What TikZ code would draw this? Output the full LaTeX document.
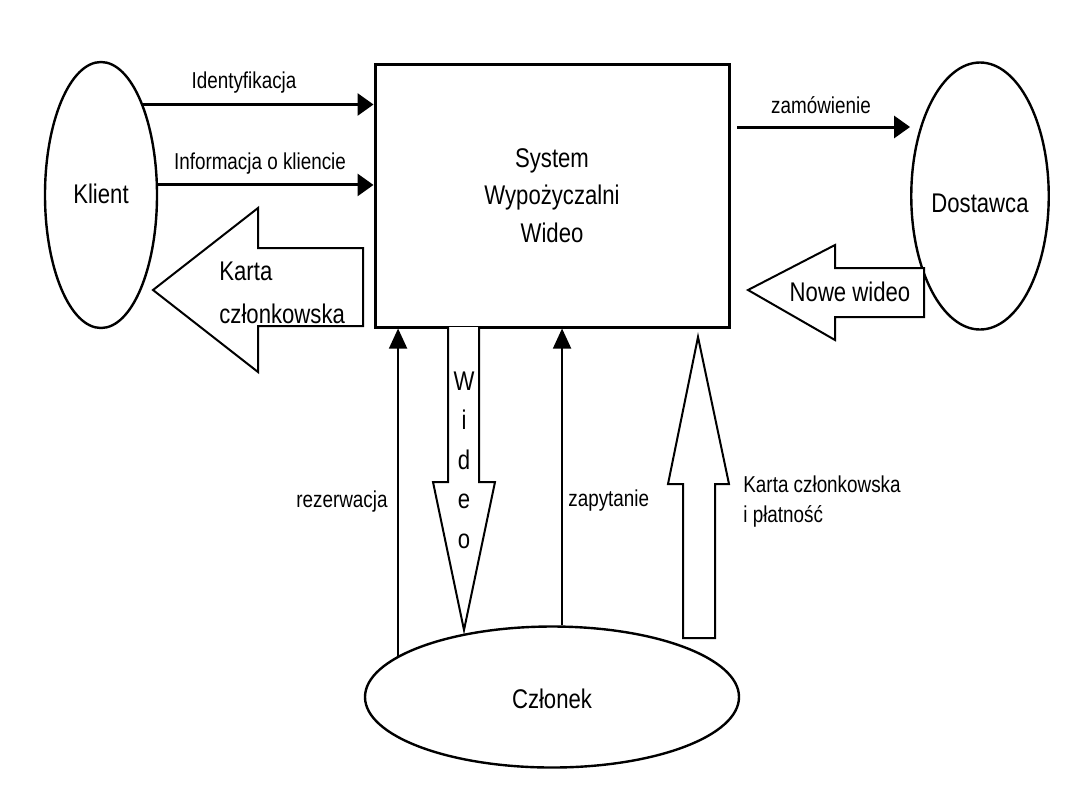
\documentclass[tikz,border=0pt]{standalone}
\usepackage{fontspec}
\setmainfont{Liberation Sans}[FakeStretch=0.82]
\usetikzlibrary{arrows.meta,shapes.geometric}
\newcommand\lblf{\fontsize{11.5}{15}\selectfont}
\newcommand\bigf{\fontsize{13.5}{18.75}\selectfont}
\begin{document}
\begin{tikzpicture}[x=0.5pt,y=-0.5pt,
  ent/.style={draw, line width=1.2pt, ellipse, inner sep=0pt, font=\bigf, text depth=0pt},
  sysbox/.style={draw, line width=1.5pt, rectangle, inner sep=0pt, minimum width=177pt, minimum height=131.5pt, align=center, font=\bigf},
  hflow/.style={line width=1.5pt, -{Triangle[length=8pt,width=11pt]}},
  vflow/.style={line width=0.8pt, -{Triangle[length=10pt,width=9pt]}},
  fat/.style={draw, line width=1pt, fill=white, line join=miter},
  lbl/.style={font=\lblf, inner sep=0pt},
  bigl/.style={font=\bigf, inner sep=0pt}]
\useasboundingbox (0,0) rectangle (1080,810);
\fill[white] (0,0) rectangle (1080,810);

% entities
\node[ent, minimum width=56pt, minimum height=133pt, text height=8pt] (klient) at (101,195) {Klient};
\node[ent, minimum width=57.5pt, minimum height=133.5pt, text height=16pt] (dost) at (980,196) {Dostawca};
\node[ent, minimum width=187pt, minimum height=70.5pt, text height=11pt] (clonek) at (552,697) {Członek};
\node[sysbox] (sys) at (552,195.5) {System\\Wypożyczalni\\Wideo};

% thin flows
\draw[hflow] (klient.65) -- (klient.65 -| sys.west);
\draw[hflow] (klient.10) -- (klient.10 -| sys.west);
\coordinate (zs) at (737,127);
\draw[hflow] (zs) -- (zs -| dost.west);
\draw[vflow] (clonek.165) -- (clonek.165 |- sys.south);
\draw[vflow] (clonek.82) -- (clonek.82 |- sys.south);

% fat arrows
\draw[fat] (153,290) -- (258,208) -- (258,248) -- (363,248) -- (363,326) -- (258,326) -- (258,372) -- cycle;
\draw[fat] (748,290) -- (835,245) -- (835,268) -- (924,268) -- (924,317) -- (835,317) -- (835,340) -- cycle;
\draw[fat] (448,327) -- (448,482) -- (433,482) -- (464,630) -- (495,482) -- (479,482) -- (479,327);
\draw[fat] (698,337) -- (729,484) -- (715,484) -- (715,638) -- (683,638) -- (683,484) -- (668,484) -- cycle;

% labels
\node[lbl, anchor=base] (lid) at (244,88) {Identyfikacja};
\node[lbl, anchor=base] (linf) at (260,169) {Informacja o kliencie};
\node[lbl, anchor=base] (lzam) at (821,113) {zamówienie};
\node[bigl, anchor=base west] (lk1) at (219,280) {Karta};
\node[bigl, anchor=base west] (lk2) at (219,323) {członkowska};
\node[bigl, anchor=base] (lnw) at (850,301) {Nowe wideo};
\node[bigl, anchor=base] (w1) at (464,390) {W};
\node[bigl, anchor=base] (w2) at (464,429.5) {i};
\node[bigl, anchor=base] (w3) at (464,469) {d};
\node[bigl, anchor=base] (w4) at (464,508.5) {e};
\node[bigl, anchor=base] (w5) at (464,548) {o};
\node[lbl, anchor=base east] (lrez) at (388,507) {rezerwacja};
\node[lbl, anchor=base west] (lzap) at (568,506) {zapytanie};
\node[lbl, anchor=base west] (lkp1) at (743,492) {Karta członkowska};
\node[lbl, anchor=base west] (lkp2) at (743,522) {i płatność};
\end{tikzpicture}
\end{document}
